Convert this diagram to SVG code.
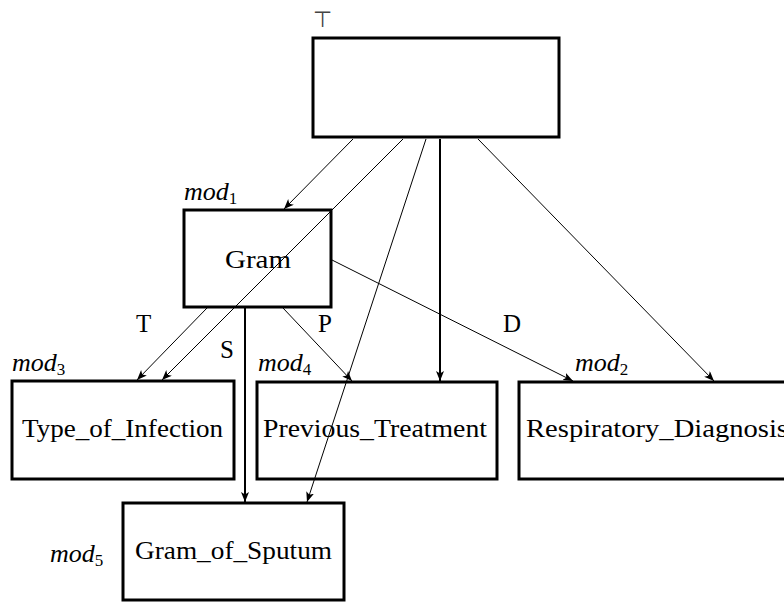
<svg xmlns="http://www.w3.org/2000/svg" width="784" height="602" viewBox="0 0 784 602">
  <defs>
    <marker id="arr" markerUnits="userSpaceOnUse" markerWidth="12" markerHeight="10" refX="10" refY="4" orient="auto">
      <path d="M0,0 L10,4 L0,8 L2.5,4 Z" fill="#000"/>
    </marker>
  </defs>

  <!-- top node (unlabelled) -->
  <g id="top">
    <text x="313" y="27" style="font-family:'DejaVu Sans';font-size:22px;fill:#444">⊤</text>
    <rect x="313" y="38" width="246" height="99" fill="#fff" stroke="#000" stroke-width="3"/>
  </g>

  <!-- module nodes -->
  <g id="gram">
    <text x="184" y="200" style="font-family:'Liberation Serif';font-size:26px;font-style:italic">mod<tspan style="font-size:17px;font-style:normal" dy="4">1</tspan></text>
    <rect x="184" y="210" width="147" height="97" fill="#fff" stroke="#000" stroke-width="3"/>
    <text x="225" y="268" style="font-family:'Liberation Serif';font-size:26px" textLength="66" lengthAdjust="spacingAndGlyphs">Gram</text>
  </g>

  <g id="type-of-infection">
    <text x="12" y="371" style="font-family:'Liberation Serif';font-size:26px;font-style:italic">mod<tspan style="font-size:17px;font-style:normal" dy="4">3</tspan></text>
    <rect x="12" y="381" width="222" height="98" fill="#fff" stroke="#000" stroke-width="3"/>
    <text x="22" y="437" style="font-family:'Liberation Serif';font-size:26px" textLength="201" lengthAdjust="spacingAndGlyphs">Type_of_Infection</text>
  </g>

  <g id="previous-treatment">
    <text x="258" y="371" style="font-family:'Liberation Serif';font-size:26px;font-style:italic">mod<tspan style="font-size:17px;font-style:normal" dy="4">4</tspan></text>
    <rect x="257" y="382" width="240" height="97" fill="#fff" stroke="#000" stroke-width="3"/>
    <text x="263" y="437" style="font-family:'Liberation Serif';font-size:26px" textLength="224" lengthAdjust="spacingAndGlyphs">Previous_Treatment</text>
  </g>

  <g id="respiratory-diagnosis">
    <text x="575" y="371" style="font-family:'Liberation Serif';font-size:26px;font-style:italic">mod<tspan style="font-size:17px;font-style:normal" dy="4">2</tspan></text>
    <rect x="519" y="382" width="280" height="97" fill="#fff" stroke="#000" stroke-width="3"/>
    <text x="526" y="437" style="font-family:'Liberation Serif';font-size:26px" textLength="262" lengthAdjust="spacingAndGlyphs">Respiratory_Diagnosis</text>
  </g>

  <g id="gram-of-sputum">
    <text x="50" y="562" style="font-family:'Liberation Serif';font-size:26px;font-style:italic">mod<tspan style="font-size:17px;font-style:normal" dy="4">5</tspan></text>
    <rect x="123" y="503" width="221" height="97" fill="#fff" stroke="#000" stroke-width="3"/>
    <text x="135" y="559" style="font-family:'Liberation Serif';font-size:26px" textLength="197" lengthAdjust="spacingAndGlyphs">Gram_of_Sputum</text>
  </g>

  <!-- connectors -->
  <g id="connectors" stroke="#000" fill="none" marker-end="url(#arr)">
    <line x1="353" y1="139" x2="284" y2="209"/>
    <line x1="403" y1="139" x2="162" y2="380"/>
    <line x1="426" y1="139" x2="307" y2="502"/>
    <line x1="440" y1="139" x2="440" y2="381" stroke-width="2"/>
    <line x1="478" y1="139" x2="714" y2="381"/>
    <line x1="207" y1="308" x2="137" y2="380"/>
    <line x1="245" y1="308" x2="245" y2="502" stroke-width="2"/>
    <line x1="283" y1="308" x2="352" y2="381"/>
    <line x1="332" y1="260" x2="573" y2="381"/>
  </g>
  <g id="edge-labels">
    <text x="136" y="332" style="font-family:'Liberation Serif';font-size:25px">T</text>
    <text x="220" y="358" style="font-family:'Liberation Serif';font-size:25px">S</text>
    <text x="318" y="332" style="font-family:'Liberation Serif';font-size:25px">P</text>
    <text x="503" y="332" style="font-family:'Liberation Serif';font-size:25px">D</text>
  </g>
</svg>
